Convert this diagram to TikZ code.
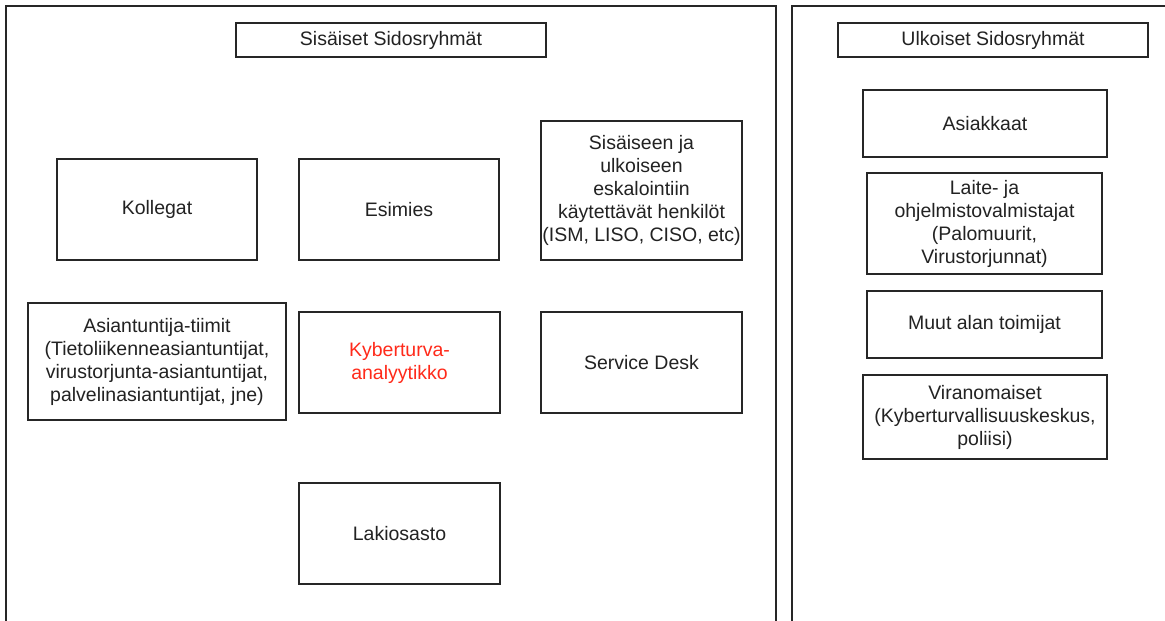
\documentclass[tikz,border=0pt]{standalone}
\usepackage{fontspec}
\setmainfont{Liberation Sans}
\usepackage{xcolor}
\usetikzlibrary{positioning}

\definecolor{linegray}{HTML}{262626}
\definecolor{textgray}{HTML}{222222}
\definecolor{analystred}{HTML}{FF2A1A}

\tikzset{
    groupbox/.style={draw=linegray, line width=1.3pt, inner sep=0pt,
        align=center, text=textgray,
        font=\fontsize{19.5}{23}\selectfont},
    titlebox/.style={groupbox},
    frameline/.style={draw=linegray, line width=1.5pt}
}

\begin{document}
\begin{tikzpicture}[x=1pt, y=-1pt]
        \useasboundingbox (0,0) rectangle (1165,621);
        \fill[white] (0,0) rectangle (1165,621);

        % containers
        \draw[frameline] (6,621) -- (6,6) -- (776,6) -- (776,621);
        \draw[frameline] (792,621) -- (792,6) -- (1165,6);

        % internal stakeholders
        \node[titlebox, minimum width=310pt, minimum height=34pt] (sisaiset)
        at (391,40) {Sis\"aiset Sidosryhm\"at};

        \node[groupbox, minimum width=200pt, minimum height=101pt] (kollegat)
        at (157,209.5) {Kollegat};

        \node[groupbox, minimum width=200pt, minimum height=101pt] (esimies)
        at (399,209.5) {Esimies};

        \node[groupbox, minimum width=201pt, minimum height=139pt] (eskalointi)
        at (641.5,190.5) {Sis\"aiseen ja\\ulkoiseen\\eskalointiin\\k\"aytett\"av\"at
        henkil\"ot\\(ISM, LISO, CISO, etc)};

        \node[groupbox, minimum width=258pt, minimum height=117pt] (asiantuntijat)
        at (157,361.5) {Asiantuntija-tiimit\\(Tietoliikenneasiantuntijat,\\
        virustorjunta-asiantuntijat,\\palvelinasiantuntijat, jne)};

        \node[groupbox, text=analystred, minimum width=201pt, minimum height=101pt]
        (analyytikko) at (399.5,362.5) {Kyberturva-\\analyytikko};

        \node[groupbox, minimum width=201pt, minimum height=101pt] (servicedesk)
        at (641.5,362.5) {Service Desk};

        \node[groupbox, minimum width=201pt, minimum height=101pt] (lakiosasto)
        at (399.5,533.5) {Lakiosasto};

        % external stakeholders
        \node[titlebox, minimum width=310pt, minimum height=34pt] (ulkoiset)
        at (993,40) {Ulkoiset Sidosryhm\"at};

        \node[groupbox, minimum width=244pt, minimum height=67pt] (asiakkaat)
        at (985,123.5) {Asiakkaat};

        \node[groupbox, minimum width=235pt, minimum height=101pt] (valmistajat)
        at (984.5,223.5) {Laite- ja\\ohjelmistovalmistajat\\(Palomuurit,\\
        Virustorjunnat)};

        \node[groupbox, minimum width=235pt, minimum height=67pt] (muut)
        at (984.5,324.5) {Muut alan toimijat};

        \node[groupbox, minimum width=244pt, minimum height=84pt] (viranomaiset)
        at (985,417) {Viranomaiset\\(Kyberturvallisuuskeskus,\\poliisi)};
\end{tikzpicture}
\end{document}
